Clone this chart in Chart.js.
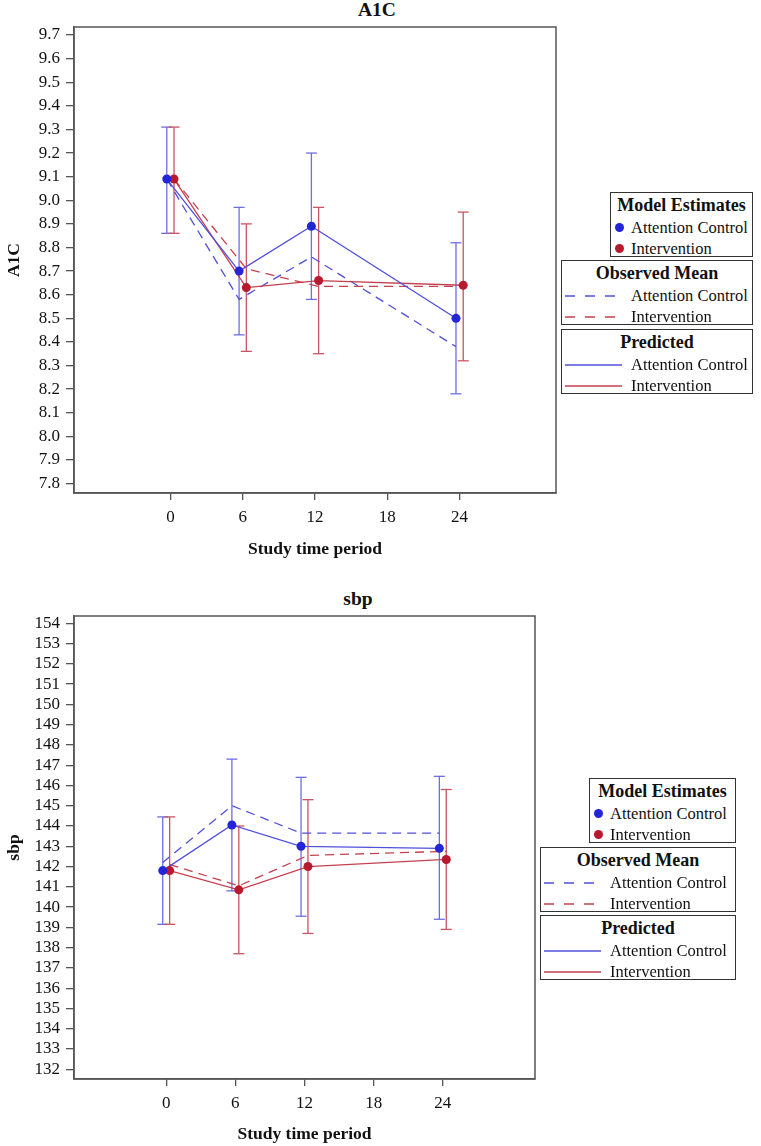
<!DOCTYPE html>
<html>
<head>
<meta charset="utf-8">
<script src="https://cdn.jsdelivr.net/npm/chart.js@4.4.1/dist/chart.umd.min.js"></script>
<style>
  body { margin: 0; background: #fff; width: 761px; height: 1146px; position: relative; overflow: hidden;
         font-family: "Liberation Serif", "Times New Roman", serif; color: #111; }
  canvas { position: absolute; }
  .ttl { position: absolute; width: 200px; text-align: center; font-weight: bold; font-size: 19.5px; line-height: 20px; }
  .lg { position: absolute; height: 65px; border: 1.5px solid #333; box-sizing: border-box; background: #fff; }
  .lg .t { height: 24px; line-height: 24px; text-align: center; font-weight: bold; font-size: 18px; }
  .lg .r { position: relative; height: 21px; line-height: 21px; font-size: 16.5px; }
  .lg .r .tx { position: absolute; white-space: nowrap; }
  .lg .r .dot { position: absolute; top: 6px; width: 9px; height: 9px; border-radius: 50%; }
  .lg .r svg { position: absolute; top: 0; }
</style>
</head>
<body>
<div class="ttl" style="left:277px;top:0px;">A1C</div>
<div class="ttl" style="left:258px;top:589px;">sbp</div>
<canvas id="a1c" width="600" height="560" style="left:0;top:0;"></canvas>
<canvas id="sbp" width="600" height="586" style="left:0;top:560px;"></canvas>
<script>
// time points (months) and tick labels
const timePoints = [0, 6, 12, 24];
const xTickVals = [0, 6, 12, 18, 24];
const groupNames = ["Attention Control", "Intervention"];

// A1C panel
const a1cTicks = [7.8, 7.9, 8.0, 8.1, 8.2, 8.3, 8.4, 8.5, 8.6, 8.7, 8.8, 8.9, 9.0, 9.1, 9.2, 9.3, 9.4, 9.5, 9.6, 9.7];
const a1cCtrlEst = [9.09, 8.70, 8.89, 8.50];
const a1cCtrlLo = [8.86, 8.43, 8.58, 8.18];
const a1cCtrlHi = [9.31, 8.97, 9.20, 8.82];
const a1cIntEst = [9.09, 8.63, 8.66, 8.64];
const a1cIntLo = [8.86, 8.36, 8.35, 8.32];
const a1cIntHi = [9.31, 8.90, 8.97, 8.95];
const a1cCtrlObs = [9.09, 8.58, 8.76, 8.38];
const a1cIntObs = [9.09, 8.71, 8.635, 8.635];

// sbp panel
const sbpTicks = [132, 133, 134, 135, 136, 137, 138, 139, 140, 141, 142, 143, 144, 145, 146, 147, 148, 149, 150, 151, 152, 153, 154];
const sbpCtrlEst = [141.8, 144.05, 143.0, 142.9];
const sbpCtrlLo = [139.15, 140.8, 139.55, 139.4];
const sbpCtrlHi = [144.45, 147.3, 146.4, 146.45];
const sbpIntEst = [141.8, 140.85, 142.0, 142.35];
const sbpIntLo = [139.15, 137.7, 138.7, 138.9];
const sbpIntHi = [144.45, 144.0, 145.3, 145.8];
const sbpCtrlObs = [142.2, 145.0, 143.65, 143.65];
const sbpIntObs = [142.1, 141.05, 142.55, 142.75];

const BLUE = "#2424da", RED = "#b8192f";
const BLUE_LN = "#5050dc", RED_LN = "#c4404e";
const BLUE_ERR = "#6e6ee2", RED_ERR = "#ca5462";
const DODGE = 0.3;

Chart.defaults.font.family = '"Liberation Serif", "Times New Roman", serif';
Chart.defaults.color = "#111";

function pts(xs, ys, dx) {
  return xs.map((t, i) => ({ x: t + dx, y: ys[i] }));
}

// each bar: low point, high point, then a gap
function bars(xs, lo, hi, dx) {
  const out = [];
  xs.forEach((t, i) => {
    out.push({ x: t + dx, y: lo[i] }, { x: t + dx, y: hi[i] }, { x: t + dx, y: null });
  });
  return out;
}

const frame = {
  id: "frame",
  afterDraw(chart) {
    const { ctx, chartArea: a } = chart;
    ctx.save();
    ctx.strokeStyle = "#555";
    ctx.lineWidth = 1.5;
    ctx.strokeRect(a.left, a.top, a.right - a.left, a.bottom - a.top);
    ctx.restore();
  }
};

function drawPanel(id, s) {
  const datasets = [
    { data: pts(timePoints, s.ctrlEst, -DODGE), showLine: false, pointRadius: 4.5, pointBackgroundColor: BLUE, pointBorderWidth: 0 },
    { data: pts(timePoints, s.intEst, DODGE), showLine: false, pointRadius: 4.5, pointBackgroundColor: RED, pointBorderWidth: 0 },
    { data: pts(timePoints, s.ctrlEst, -DODGE), borderColor: BLUE_LN, borderWidth: 1.3, pointRadius: 0 },
    { data: pts(timePoints, s.intEst, DODGE), borderColor: RED_LN, borderWidth: 1.3, pointRadius: 0 },
    { data: pts(timePoints, s.ctrlObs, -DODGE), borderColor: BLUE_LN, borderWidth: 1.3, borderDash: [9, 6], pointRadius: 0 },
    { data: pts(timePoints, s.intObs, DODGE), borderColor: RED_LN, borderWidth: 1.3, borderDash: [9, 6], pointRadius: 0 },
    { data: bars(timePoints, s.intLo, s.intHi, DODGE), borderColor: RED_ERR, borderWidth: 1.3,
      pointStyle: "line", pointRadius: 5.5, pointBorderColor: RED_ERR, pointBorderWidth: 1.3 },
    { data: bars(timePoints, s.ctrlLo, s.ctrlHi, -DODGE), borderColor: BLUE_ERR, borderWidth: 1.3,
      pointStyle: "line", pointRadius: 5.5, pointBorderColor: BLUE_ERR, pointBorderWidth: 1.3 }
  ];

  return new Chart(document.getElementById(id), {
    type: "line",
    data: { datasets },
    options: {
      responsive: false,
      animation: false,
      events: [],
      layout: { padding: s.pad },
      plugins: { legend: { display: false }, tooltip: { enabled: false } },
      scales: {
        x: {
          type: "linear", min: -8, max: 32,
          afterBuildTicks: sc => { sc.ticks = xTickVals.map(v => ({ value: v })); },
          afterFit: sc => { sc.height = s.xH; },
          grid: { drawOnChartArea: false, tickLength: 7, color: "#555", lineWidth: 1.3 },
          border: { color: "#555", width: 1.5 },
          ticks: { font: { size: 17 }, padding: 7, maxRotation: 0, autoSkip: false },
          title: { display: true, text: "Study time period", font: { size: 17.5, weight: "bold" }, padding: 0 }
        },
        y: {
          type: "linear", min: s.yMin, max: s.yMax,
          afterBuildTicks: sc => { sc.ticks = s.yTicks.map(v => ({ value: v })); },
          afterFit: sc => { sc.width = s.yW; },
          grid: { drawOnChartArea: false, tickLength: 8, color: "#555", lineWidth: 1.3 },
          border: { color: "#555", width: 1.5 },
          ticks: { font: { size: 17 }, padding: 6, autoSkip: false, callback: s.fmt },
          title: { display: true, text: s.yLabel, font: { size: 17.5, weight: "bold" }, padding: 0 }
        }
      }
    },
    plugins: [frame]
  });
}

drawPanel("a1c", {
  ctrlEst: a1cCtrlEst, ctrlLo: a1cCtrlLo, ctrlHi: a1cCtrlHi, ctrlObs: a1cCtrlObs,
  intEst: a1cIntEst, intLo: a1cIntLo, intHi: a1cIntHi, intObs: a1cIntObs,
  yTicks: a1cTicks, yMin: 7.76, yMax: 9.734, yLabel: "A1C", fmt: v => v.toFixed(1),
  pad: { left: 3.5, right: 44, top: 27, bottom: 0 }, xH: 67, yW: 70.5
});

drawPanel("sbp", {
  ctrlEst: sbpCtrlEst, ctrlLo: sbpCtrlLo, ctrlHi: sbpCtrlHi, ctrlObs: sbpCtrlObs,
  intEst: sbpIntEst, intLo: sbpIntLo, intHi: sbpIntHi, intObs: sbpIntObs,
  yTicks: sbpTicks, yMin: 131.52, yMax: 154.36, yLabel: "sbp", fmt: v => String(v),
  pad: { left: 3.5, right: 65, top: 56, bottom: 1 }, xH: 66, yW: 70.5
});

// legends (HTML, real text)
const legendBoxes = [
  { x: 610, y: 192, w: 143, title: "Model Estimates", kind: "dot" },
  { x: 561, y: 260, w: 192, title: "Observed Mean", kind: "dash" },
  { x: 561, y: 329, w: 192, title: "Predicted", kind: "solid" },
  { x: 589, y: 778, w: 147, title: "Model Estimates", kind: "dot" },
  { x: 540, y: 847, w: 196, title: "Observed Mean", kind: "dash" },
  { x: 540, y: 915, w: 196, title: "Predicted", kind: "solid" }
];
const symColors = { dot: [BLUE, RED], dash: [BLUE_LN, RED_LN], solid: [BLUE_LN, RED_LN] };

legendBoxes.forEach(b => {
  const box = document.createElement("div");
  box.className = "lg";
  box.style.left = b.x + "px";
  box.style.top = b.y + "px";
  box.style.width = b.w + "px";
  let html = '<div class="t">' + b.title + "</div>";
  groupNames.forEach((name, i) => {
    const c = symColors[b.kind][i];
    let sym;
    if (b.kind === "dot") {
      sym = '<span class="dot" style="left:4px;background:' + c + '"></span>';
    } else {
      const len = b.kind === "dash" ? 52 : 57;
      const dash = b.kind === "dash" ? ' stroke-dasharray="10 10"' : "";
      sym = '<svg width="' + len + '" height="21" style="left:3px">' +
            '<line x1="0" y1="11" x2="' + len + '" y2="11" stroke="' + c + '" stroke-width="1.5"' + dash + "/></svg>";
    }
    const tx = b.kind === "dot" ? 20 : 69;
    html += '<div class="r">' + sym + '<span class="tx" style="left:' + tx + 'px">' + name + "</span></div>";
  });
  box.innerHTML = html;
  document.body.appendChild(box);
});
</script>
</body>
</html>
